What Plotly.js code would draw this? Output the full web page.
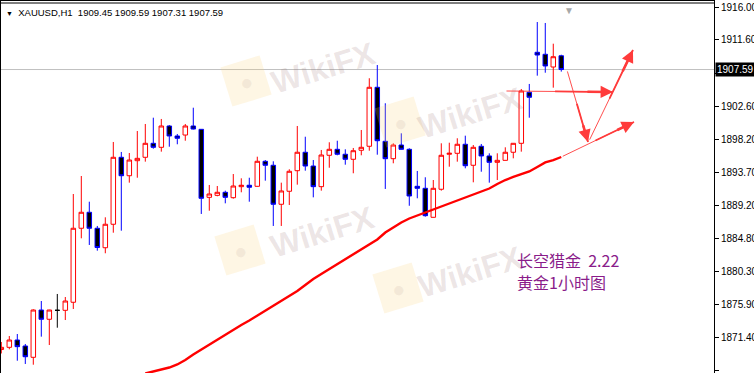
<!DOCTYPE html>
<html><head><meta charset="utf-8">
<script src="https://cdn.plot.ly/plotly-3.0.1.min.js"></script>
<style>html,body{margin:0;padding:0;background:#fff;overflow:hidden}#chart{width:754px;height:373px}</style>
</head><body><div id="chart"></div>
<script>
// ---- data (XAUUSD H1) ----
const openP = [1869.75,1870.05,1871.04,1870.23,1868.70,1875.09,1873.84,1875.05,1875.05,1876.14,
1886.14,1888.30,1886.14,1883.51,1886.68,1895.73,1893.24,1895.27,1895.73,1897.62,
1897.08,1899.96,1898.61,1898.74,1899.96,1899.51,1890.32,1890.59,1891.00,1890.27,
1891.76,1891.95,1891.81,1895.19,1894.65,1889.38,1891.14,1893.92,1896.41,1894.55,
1891.76,1896.00,1896.81,1896.14,1895.46,1896.68,1897.22,1905.19,1897.89,1895.54,
1897.39,1896.81,1891.81,1891.54,1887.62,1891.41,1896.14,1896.27,1897.49,1894.65,
1897.22,1895.91,1895.05,1895.32,1896.41,1897.62,1904.51,1909.92,1909.65,1907.93,
1909.45];
const highP = [1870.77,1871.58,1871.85,1870.50,1875.19,1876.31,1875.12,1877.26,1876.85,1890.77,
1893.20,1889.73,1886.45,1887.62,1897.80,1896.45,1896.31,1899.28,1900.23,1901.08,
1900.91,1900.09,1898.88,1900.23,1902.43,1899.55,1891.99,1891.85,1891.22,1893.47,
1892.89,1892.97,1895.81,1895.36,1895.19,1892.30,1894.11,1899.96,1898.51,1895.36,
1896.72,1897.76,1897.97,1896.81,1896.99,1899.42,1906.41,1908.20,1903.03,1897.62,
1898.97,1896.95,1893.88,1893.03,1892.66,1897.62,1897.70,1898.30,1898.65,1897.39,
1897.53,1896.27,1896.27,1897.08,1897.65,1904.96,1905.64,1914.01,1913.88,1911.08,
1909.59];
const lowP = [1869.22,1869.78,1868.24,1867.80,1867.70,1871.49,1870.36,1872.70,1873.74,1875.23,
1884.78,1883.88,1883.11,1882.76,1885.54,1885.81,1892.30,1892.97,1895.14,1896.89,
1896.49,1897.16,1897.49,1897.97,1899.49,1888.07,1888.51,1890.46,1889.51,1890.14,
1891.00,1889.73,1891.76,1892.57,1886.45,1886.45,1889.28,1892.03,1893.92,1890.32,
1891.22,1894.32,1896.00,1894.73,1893.57,1896.00,1896.62,1896.08,1891.45,1894.92,
1896.78,1889.18,1890.19,1887.70,1887.60,1891.22,1894.46,1895.14,1894.24,1892.35,
1893.78,1892.30,1892.66,1895.30,1895.59,1896.49,1901.08,1906.76,1907.16,1905.14,
1907.31];
const closeP = [1870.05,1871.04,1870.14,1868.78,1875.09,1873.84,1875.09,1875.05,1876.31,1886.14,
1888.30,1886.14,1883.54,1886.68,1895.73,1893.24,1895.36,1895.59,1897.62,1897.08,
1899.96,1898.61,1898.30,1899.96,1899.55,1890.19,1890.77,1891.00,1890.32,1891.85,
1891.95,1891.68,1895.19,1894.65,1889.38,1891.18,1893.84,1896.41,1894.55,1891.76,
1896.04,1896.81,1896.14,1895.46,1896.62,1897.08,1905.19,1897.97,1895.54,1897.39,
1896.81,1890.50,1891.54,1887.84,1891.54,1896.00,1896.27,1897.49,1894.59,1897.08,
1895.91,1895.05,1895.32,1896.41,1897.62,1904.69,1903.84,1909.55,1908.07,1909.32,
1907.59];
const maLine = [null,null,null,null,null,null,null,null,null,null,null,null,null,null,null,null,null,null,
1866.51,1866.78,1867.05,1867.32,1867.73,1868.34,1869.08,1869.76,1870.43,1871.11,1871.72,1872.39,
1873.07,1873.68,1874.35,1875.03,1875.70,1876.38,1877.05,1877.66,1878.47,1879.28,1879.96,1880.64,
1881.31,1881.92,1882.59,1883.34,1884.01,1884.62,1885.57,1886.24,1886.92,1887.46,1887.86,1888.27,
1888.68,1889.08,1889.49,1889.89,1890.30,1890.70,1891.11,1891.51,1892.12,1892.66,1893.07,1893.41,
1893.81,1894.42,1895.03,1895.36,1895.77];
const tickVals = [1866.90,1871.40,1875.90,1880.30,1884.80,1889.20,1893.70,1898.20,1902.60,1907.10,1911.60,1916.00];
const lastPrice = 1907.59;
const headerText = 'XAUUSD,H1&nbsp;&nbsp;1909.45 1909.59 1907.31 1907.59';
const noteLine1 = '长空猎金&nbsp;&nbsp;2.22';
const noteLine2 = '黄金1小时图';
// arrows drawn on chart: [barIndex, price]
const arrowTail = [[62.96,1904.69],[70.71,1907.54],[73.46,1897.92],[70.00,1895.77]];
const arrowHead = [[76.46,1904.55],[73.34,1897.80],[78.96,1910.23],[79.09,1900.50]];

// ---- build ----
const barIdx = openP.map((_, i) => i);
const isDoji = barIdx.map(i => openP[i] === closeP[i]);
const pick = (arr, want) => arr.map((v, i) => (isDoji[i] === want ? v : null));

const traces = [
  {type:'candlestick', x:barIdx, open:pick(openP,false), high:pick(highP,false), low:pick(lowP,false), close:pick(closeP,false),
   increasing:{line:{color:'#ff0000', width:1}, fillcolor:'#ffffff'},
   decreasing:{line:{color:'#0000ff', width:1}, fillcolor:'#000000'},
   whiskerwidth:0, hoverinfo:'skip', showlegend:false},
  {type:'candlestick', x:barIdx, open:pick(openP,true), high:pick(highP,true), low:pick(lowP,true), close:pick(closeP,true),
   increasing:{line:{color:'#000000', width:1}, fillcolor:'#000000'},
   decreasing:{line:{color:'#000000', width:1}, fillcolor:'#000000'},
   whiskerwidth:0, hoverinfo:'skip', showlegend:false},
  {type:'scatter', mode:'lines', x:barIdx, y:maLine, line:{color:'#ff0000', width:2.4}, hoverinfo:'skip', showlegend:false}
];

const W = 754, H = 373, R = 40, PW = W - R;
const annotations = [];
const wm = (px, py, txt, opts) => Object.assign({xref:'paper', yref:'paper', x:px/PW, y:1-py/H, xanchor:'center', yanchor:'middle', showarrow:false, text:txt, textangle:-17}, opts);
// watermarks
[[246,81,323,68],[400,122,470,113],[240,250,322,232],[398,288,470,272]].forEach(w => {
  annotations.push(wm(w[0], w[1], '●', {font:{size:22, color:'rgba(170,140,130,0.12)'}, bgcolor:'rgba(250,210,120,0.2)', width:38, height:38}));
  annotations.push(wm(w[2], w[3], '<b>WikiFX</b>', {font:{family:'Liberation Sans, Arial', size:32, color:'rgba(140,100,100,0.17)'}}));
});
// header
annotations.push({xref:'paper', yref:'paper', x:4/PW, y:1-12/H, xanchor:'left', yanchor:'middle', showarrow:false,
  text:'<span style="font-size:7px">▼</span>&nbsp;&nbsp;' + headerText, font:{family:'Liberation Sans, Arial', size:9.5, color:'#000'}});
// shift marker
annotations.push({xref:'x', yref:'paper', x:70.96, y:1, yanchor:'top', yshift:-1, showarrow:false, text:'▼', font:{size:10, color:'#a8a8a8'}});
// note text
annotations.push({xref:'x', yref:'y', x:64.21, y:1881.85, xanchor:'left', yanchor:'middle', showarrow:false, text:noteLine1, font:{family:'Noto Sans CJK SC', size:16, color:'#8a1c8a'}});
annotations.push({xref:'x', yref:'y', x:64.21, y:1878.88, xanchor:'left', yanchor:'middle', showarrow:false, text:noteLine2, font:{family:'Noto Sans CJK SC', size:16, color:'#8a1c8a'}});
// arrows (tapered by stacking segments)
const arrowColor = '#ff3b3b';
arrowTail.forEach((t, k) => {
  const h = arrowHead[k];
  [[0,0.9,0],[0.45,1.8,0],[0.75,2.6,2]].forEach(s => {
    const f = s[0];
    annotations.push({xref:'x', yref:'y', axref:'x', ayref:'y', x:h[0], y:h[1],
      ax:t[0]+f*(h[0]-t[0]), ay:t[1]+f*(h[1]-t[1]), showarrow:true, text:'',
      arrowhead:s[2], arrowsize:s[2]?0.95:1, arrowwidth:s[1], arrowcolor:arrowColor, standoff:0, startstandoff:0});
  });
});
// price label (covers the hidden 1907.10 tick like the terminal does)
annotations.push({xref:'paper', yref:'y', x:1, xanchor:'left', xshift:1, y:lastPrice, yanchor:'middle', showarrow:false,
  text:lastPrice.toFixed(2), bgcolor:'#000000', borderpad:1, font:{family:'Liberation Sans, Arial', size:10, color:'#ffffff'}});

const shapes = [
  {type:'line', layer:'below', xref:'paper', yref:'y', x0:0, x1:1, y0:lastPrice, y1:lastPrice, line:{color:'#c0c0c0', width:1}},
  {type:'line', xref:'paper', yref:'paper', x0:0.5/PW, x1:0.5/PW, y0:0, y1:1, line:{color:'#000', width:1}},
  {type:'line', xref:'paper', yref:'paper', x0:0, x1:1, y0:1-0.5/H, y1:1-0.5/H, line:{color:'#000', width:1}},
  {type:'line', xref:'paper', yref:'paper', x0:0, x1:1, y0:1-3/H, y1:1-3/H, line:{color:'#000', width:1}}
];

const layout = {
  width:W, height:H, margin:{l:0, r:R, t:0, b:0, pad:0},
  paper_bgcolor:'#ffffff', plot_bgcolor:'#ffffff',
  showlegend:false, boxmode:'overlay', boxgap:0.25, boxgroupgap:0.25,
  xaxis:{type:'linear', range:[-0.1625, 89.09], showgrid:false, zeroline:false, showticklabels:false, ticks:'', showline:false, rangeslider:{visible:false}, fixedrange:true},
  yaxis:{side:'right', range:[1866.58, 1916.986], showgrid:false, zeroline:false, showline:true, linecolor:'#000', linewidth:1,
    ticks:'outside', ticklen:4, tickcolor:'#000', tickvals:tickVals,
    ticktext:tickVals.map(v => (Math.abs(v - lastPrice) < 1 ? '' : v.toFixed(2))),
    tickfont:{family:'Liberation Sans, Arial', size:10, color:'#000'}, fixedrange:true},
  annotations:annotations, shapes:shapes
};
Plotly.newPlot('chart', traces, layout, {staticPlot:true, displayModeBar:false});
</script>
</body></html>
